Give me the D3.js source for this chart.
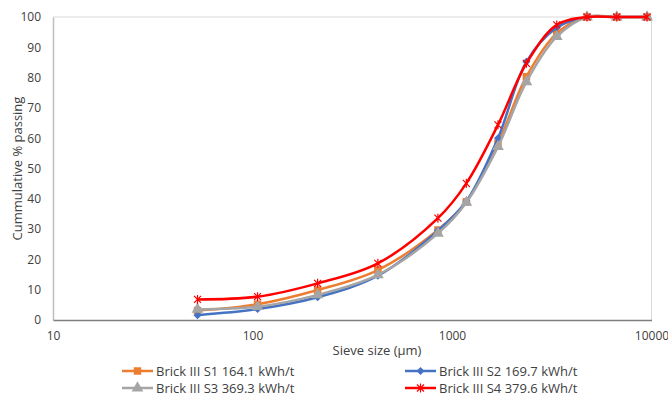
<!DOCTYPE html>
<meta charset="utf-8">
<style>
body { margin: 0; background: #fff; }
svg { font-family: "Open Sans", sans-serif; }
.tick text { fill: #404040; font-size: 12px; }
.title { fill: #404040; font-size: 13px; }
.legend text { fill: #404040; font-size: 13px; }
</style>
<body>
<div id="chart"></div>
<script src="https://cdnjs.cloudflare.com/ajax/libs/d3/7.8.5/d3.min.js"></script>
<script>

// sieve sizes (µm) and cumulative % passing for each sample
var sizes = [53, 106, 212, 425, 850, 1180, 1700, 2360, 3350, 4750, 6700, 9500];
var s1 = [3.1, 5.2, 9.9, 16.5, 29.7, 39.0, 58.3, 80.3, 94.6, 100, 100, 100];
var s2 = [1.6, 3.6, 7.5, 14.6, 29.5, 39.2, 60.0, 85.2, 96.5, 100, 100, 100];
var s3 = [3.5, 4.4, 8.3, 14.9, 28.6, 38.8, 57.2, 78.6, 93.5, 100, 100, 100];
var s4 = [6.8, 7.7, 12.1, 18.7, 33.6, 45.1, 64.4, 84.7, 97.4, 100, 100, 100];
var names = ["Brick III S1 164.1 kWh/t", "Brick III S2 169.7 kWh/t",
             "Brick III S3 369.3 kWh/t", "Brick III S4 379.6 kWh/t"];
var xTicks = [10, 100, 1000, 10000];
var yTicks = [0, 10, 20, 30, 40, 50, 60, 70, 80, 90, 100];

var series = [
  {name: names[0], values: s1, color: "#ED7D31", marker: "square"},
  {name: names[1], values: s2, color: "#4472C4", marker: "diamond"},
  {name: names[2], values: s3, color: "#A5A5A5", marker: "triangle"},
  {name: names[3], values: s4, color: "#FF0000", marker: "star"}
];

var W = 668, H = 397;
var margin = {top: 17, right: 16.5, bottom: 77, left: 53};
var width = W - margin.left - margin.right,
    height = H - margin.top - margin.bottom;

var svg = d3.select("#chart").append("svg")
    .attr("width", W)
    .attr("height", H);

var g = svg.append("g")
    .attr("transform", "translate(" + margin.left + "," + margin.top + ")");

var x = d3.scaleLog().domain([10, 10000]).range([0, width]);
var y = d3.scaleLinear().domain([0, 100]).range([height, 0]);

// plot area border (top/right)
g.append("path")
    .attr("d", "M0,0H" + width + "V" + height)
    .attr("fill", "none")
    .attr("stroke", "#D9D9D9")
    .attr("stroke-width", 1);

var yAxis = g.append("g")
    .call(d3.axisLeft(y).tickValues(yTicks).tickSize(0).tickPadding(12));
yAxis.select(".domain").attr("stroke", "#BFBFBF").attr("stroke-width", 1.5);

var xAxis = g.append("g")
    .attr("transform", "translate(0," + height + ")")
    .call(d3.axisBottom(x).tickValues(xTicks).tickSize(0).tickPadding(11)
      .tickFormat(d3.format("d")));
xAxis.select(".domain").attr("stroke", "#7F7F7F").attr("stroke-width", 1.5);

svg.selectAll(".tick text").attr("font-family", "Open Sans");

// axis titles
svg.append("text")
    .attr("class", "title")
    .attr("transform", "translate(17," + (margin.top + height / 2) + ") rotate(-90)")
    .attr("text-anchor", "middle")
    .attr("dy", "0.35em")
    .text("Cummulative % passing");

svg.append("text")
    .attr("class", "title")
    .attr("x", 377)
    .attr("y", 350)
    .attr("text-anchor", "middle")
    .attr("dy", "0.35em")
    .text("Sieve size (µm)");

var line = d3.line()
    .x(function(d, i) { return x(sizes[i]); })
    .y(function(d) { return y(d); })
    .curve(d3.curveCatmullRom.alpha(0.5));

function drawMarker(sel, type, color) {
  if (type === "square") {
    sel.append("path").attr("d", d3.symbol().type(d3.symbolSquare).size(56))
      .attr("fill", color);
  } else if (type === "diamond") {
    sel.append("path").attr("d", "M0,-4L4,0L0,4L-4,0Z").attr("fill", color);
  } else if (type === "triangle") {
    sel.append("path").attr("d", d3.symbol().type(d3.symbolTriangle).size(60))
      .attr("fill", color);
  } else {
    sel.append("path").attr("d", "M-3.5,-3.5L3.5,3.5M-3.5,3.5L3.5,-3.5M0,-4.5V4.5")
      .attr("stroke", color).attr("stroke-width", 1.2).attr("fill", "none");
  }
}

series.forEach(function(s) {
  var sg = g.append("g");
  sg.append("path")
    .datum(s.values)
    .attr("d", line)
    .attr("fill", "none")
    .attr("stroke", s.color)
    .attr("stroke-width", 2.5);
  sg.selectAll(".pt")
    .data(s.values)
    .enter().append("g")
    .attr("class", "pt")
    .attr("transform", function(d, i) { return "translate(" + x(sizes[i]) + "," + y(d) + ")"; })
    .each(function() { drawMarker(d3.select(this), s.marker, s.color); });
});

// legend
var legendPos = [[122, 371], [405, 371], [122, 388], [405, 388]];
var legend = svg.append("g").attr("class", "legend");
series.forEach(function(s, i) {
  var lg = legend.append("g")
    .attr("transform", "translate(" + legendPos[i][0] + "," + legendPos[i][1] + ")");
  lg.append("line")
    .attr("x1", 0).attr("x2", 31)
    .attr("stroke", s.color).attr("stroke-width", 2.5);
  var mg = lg.append("g").attr("transform", "translate(15.5,0)");
  drawMarker(mg, s.marker, s.color);
  lg.append("text")
    .attr("x", 34)
    .attr("dy", "0.35em")
    .text(s.name);
});

</script>
</body>
